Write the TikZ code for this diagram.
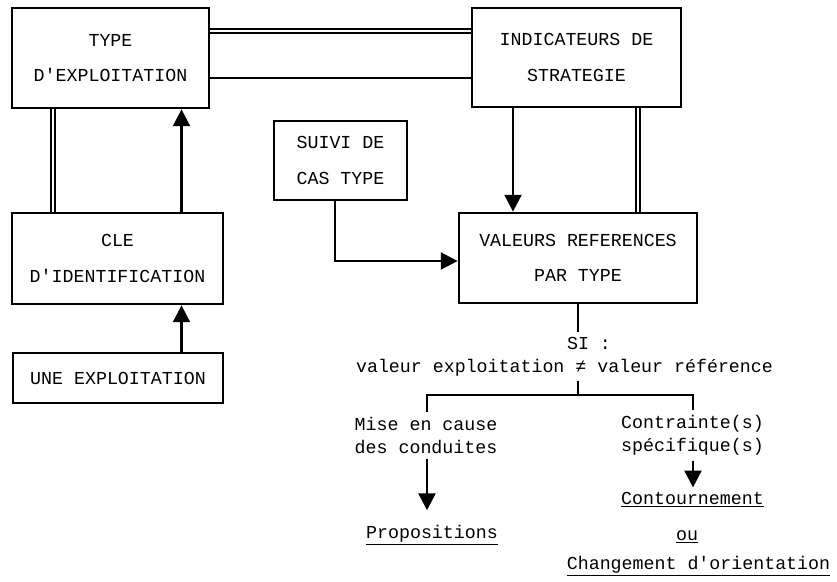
\documentclass[tikz,border=0pt]{standalone}
\usepackage{fontspec}
\setmonofont{Liberation Mono}
\usetikzlibrary{arrows.meta}

\tikzset{
    txt/.style={font=\ttfamily\fontsize{13}{16.4}\selectfont, align=center},
    box/.style={draw, line width=1.9pt, inner sep=0pt, align=center,
        font=\ttfamily\fontsize{13}{25}\selectfont},
    link/.style={line width=1.9pt},
    dbl/.style={double, line width=1.1pt, double distance=1.8pt},
    arr/.style={line width=1.9pt, -{Triangle[width=12pt,length=12pt]}}
}

\begin{document}
\begin{tikzpicture}[x=0.025cm, y=-0.025cm]
        \useasboundingbox (0,0) rectangle (837,581);

        \node[box, minimum width=4.925cm, minimum height=2.5cm] (typeexp) at (110.5,58) {TYPE\\D'EXPLOITATION};
        \node[box, minimum width=5.225cm, minimum height=2.475cm] (indic) at (576.5,57.5) {INDICATEURS DE\\STRATEGIE};
        \node[box, minimum width=3.325cm, minimum height=1.975cm] (suivi) at (340.5,160.5) {SUIVI DE\\CAS TYPE};
        \node[box, minimum width=5.275cm, minimum height=2.275cm] (cle) at (117.5,258.5) {CLE\\D'IDENTIFICATION};
        \node[box, minimum width=5.25cm, minimum height=1.25cm] (une) at (118,378) {UNE EXPLOITATION};
        \node[box, minimum width=5.95cm, minimum height=2.25cm] (valeurs) at (578,258) {VALEURS REFERENCES\\PAR TYPE};

        \node[txt] (si) at (589,343) {SI :};
        \node[txt] (cond) at (564.5,368) {valeur exploitation ≠ valeur référence};
        \node[txt] (mise) at (426,435.5) {Mise en cause\\des conduites};
        \node[txt] (contr) at (692.5,435.5) {Contrainte(s)\\spécifique(s)};
        \node[txt] (prop) at (432,535) {\underline{Propositions}};
        \node[txt] (contour) at (692.5,500) {\underline{Contournement}};
        \node[txt] (ou) at (687,537) {\underline{ou}};
        \node[txt] (change) at (698.5,566) {\underline{Changement d'orientation}};

        \coordinate (ytop) at (0,31);
        \coordinate (ybot) at (0,78);
        \coordinate (xdbl) at (53,0);
        \coordinate (xup) at (181.5,0);
        \coordinate (xdown) at (513,0);
        \coordinate (xright) at (638,0);
        \coordinate (xleft) at (427,0);
        \coordinate (xcontr) at (693,0);
        \coordinate (bend) at (335,261);
        \coordinate (fork) at (578,395);

        \draw[dbl] (typeexp.east |- ytop) -- (indic.west |- ytop);
        \draw[link] (typeexp.east |- ybot) -- (indic.west |- ybot);
        \draw[dbl] (xdbl |- cle.north) -- (xdbl |- typeexp.south);
        \draw[arr] (xup |- cle.north) -- (xup |- typeexp.south);
        \draw[arr] (xup |- une.north) -- (xup |- cle.south);
        \draw[arr] (xdown |- indic.south) -- (xdown |- valeurs.north);
        \draw[dbl] (xright |- indic.south) -- (xright |- valeurs.north);
        \draw[arr] (bend |- suivi.south) -- (bend) -- (valeurs.west |- bend);

        \draw[link] (valeurs.south) -- (valeurs.south |- si.north);
        \draw[link] (fork |- cond.south) -- (fork);
        \draw[link] (xleft |- mise.north) |- (fork) -| (xcontr |- contr.north);
        \draw[arr, shorten >=7pt] (xleft |- mise.south) -- (xleft |- prop.north);
        \draw[arr] (xcontr |- contr.south) -- (xcontr |- contour.north);
    \end{tikzpicture}
\end{document}
